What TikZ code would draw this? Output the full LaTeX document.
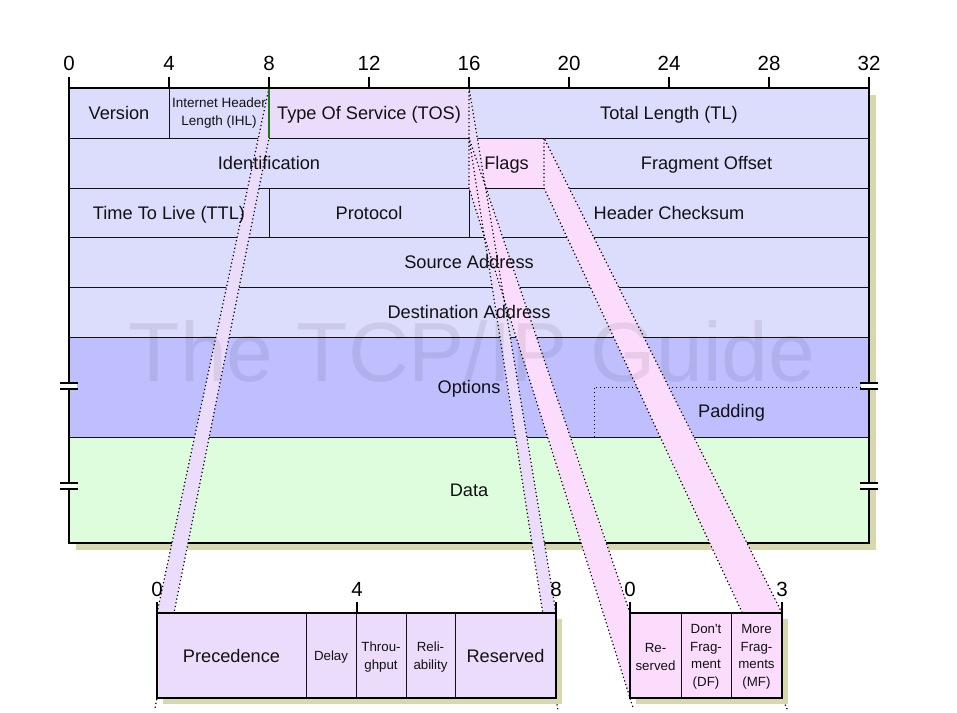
\documentclass[tikz,border=0pt]{standalone}
\usepackage{fontspec}
\setmainfont{Liberation Sans}
\usetikzlibrary{calc}
\definecolor{hdr}{RGB}{220,220,252}
\definecolor{opt}{RGB}{191,191,255}
\definecolor{dat}{RGB}{221,253,221}
\definecolor{tos}{RGB}{236,220,252}
\definecolor{flg}{RGB}{252,220,252}
\definecolor{shd}{RGB}{216,216,176}
\definecolor{ink}{RGB}{18,18,18}
\definecolor{grn}{RGB}{30,120,30}
\begin{document}
\begin{tikzpicture}[x=1pt,y=-1pt,
  lbl/.style={font=\fontsize{18.2}{21}\selectfont, text=ink, inner sep=0pt, text height=13pt, text depth=0pt},
  sml/.style={font=\fontsize{13.3}{17.5}\selectfont, text=ink, align=center, inner sep=0pt},
  num/.style={font=\fontsize{20.5}{22}\selectfont, text=black, inner sep=0pt},
  thinln/.style={line width=1pt, draw=ink},
  thickln/.style={line width=2.3pt, draw=black},
  strip/.style={draw=black, line width=1.2pt, dash pattern=on 1.2pt off 2.6pt},
  padln/.style={draw=black, line width=1pt, dash pattern=on 1.2pt off 2.8pt},
  brk/.style={line width=1.8pt, draw=black},
]
\useasboundingbox (0,0) rectangle (957,712);

% ---------- main header box ----------
\fill[shd] (76,95) rectangle (876,550);
\fill[hdr] (69,88) rectangle (869,337);
\fill[tos] (269,88) rectangle (469,138);
\fill[flg] (469,138) rectangle (544,188);
\fill[opt] (69,337) rectangle (869,437);
\fill[dat] (69,437) rectangle (869,543);

\foreach \yy in {138,188,237,287,337,437} \draw[thinln] (69,\yy) -- (869,\yy);
\draw[thinln] (169,88) -- (169,138);
\draw[thinln] (469,88) -- (469,237);
\draw[thinln] (544,138) -- (544,188);
\draw[thinln] (269,188) -- (269,237);

\draw[padln] (869,387) -- (594,387) -- (594,437);

\draw[thickln] (69,88) rectangle (869,543);
\foreach \i in {0,4,...,32} {
  \draw[line width=2.2pt] ({69+25*\i},77) -- ({69+25*\i},88);
  \node[num] (n\i) at ({69+25*\i},63) {\i};
}

% ---------- corners of the zoom strips ----------
\coordinate (t1) at (269,88);
\coordinate (t2) at (269,138);
\coordinate (t3) at (469,88);
\coordinate (t4) at (469,138);
\coordinate (f2) at (469,188);
\coordinate (f3) at (544,138);
\coordinate (f4) at (544,188);
\coordinate (a1) at (157,613);
\coordinate (a2) at (157,698);
\coordinate (a3) at (556,613);
\coordinate (a4) at (556,698);
\coordinate (b1) at (630,613);
\coordinate (b2) at (630,698);
\coordinate (b3) at (782,613);
\coordinate (b4) at (782,698);

\fill[tos] (t1) -- (a1) -- (a2) -- (t2) -- cycle;
\fill[tos] (t3) -- (a3) -- (a4) -- (t4) -- cycle;
\fill[flg] (t4) -- (b1) -- (b2) -- (f2) -- cycle;
\fill[flg] (f3) -- (b3) -- (b4) -- (f4) -- cycle;

% ---------- watermark ----------
\node[font=\fontsize{84}{84}\selectfont, text=black, text opacity=0.075, inner sep=0pt, anchor=base] (wm) at (472,381) {The TCP/IP Guide};

% ---------- field labels ----------
\node[lbl] (ver) at (119,113) {Version};
\node[font=\fontsize{13.5}{18}\selectfont, text=ink, align=center, inner sep=0pt] (ihl) at (219,113) {Internet Header\\Length (IHL)};
\node[lbl] (tosl) at (369,113) {Type Of Service (TOS)};
\node[lbl] (tl) at (669,113) {Total Length (TL)};
\node[lbl] (id) at (269,163) {Identification};
\node[lbl] (flags) at (506.5,163) {Flags};
\node[lbl] (fo) at (706.5,163) {Fragment Offset};
\node[lbl] (ttl) at (169,213) {Time To Live (TTL)};
\node[lbl] (proto) at (369,213) {Protocol};
\node[lbl] (hc) at (669,213) {Header Checksum};
\node[lbl] (src) at (469,262) {Source Address};
\node[lbl] (dst) at (469,312) {Destination Address};
\node[lbl] (opts) at (469,387) {Options};
\node[lbl] (pad) at (731.5,411) {Padding};
\node[lbl] (data) at (469,490) {Data};

% ---------- dotted strip outlines ----------
\draw[strip] (a1) -- (t1) -- (t2) -- ($(t2)!1.02!(a2)$);
\draw[strip] (a3) -- (t3) -- (t4) -- ($(t4)!1.02!(a4)$);
\draw[strip] (b1) -- (t4) -- (f2) -- ($(f2)!1.022!(b2)$);
\draw[strip] (b3) -- (f3) -- (f4) -- ($(f4)!1.022!(b4)$);
\draw[grn, line width=1.2pt] (269,89) -- (269,138);

% ---------- break marks ----------
\foreach \bx in {69,869} {
  \foreach \by in {386,486} {
    \fill[white] ({\bx-8},{\by-2}) rectangle ({\bx+8},{\by+2});
    \draw[brk] ({\bx-9},{\by-3}) -- ({\bx+9},{\by-3});
    \draw[brk] ({\bx-9},{\by+3}) -- ({\bx+9},{\by+3});
  }
}

% ---------- TOS sub-box ----------
\fill[shd] (163,619) rectangle (562,704);
\fill[tos] (a1) rectangle (a4);
\foreach \xx in {306,356,406,455} \draw[thinln] (\xx,613) -- (\xx,698);
\draw[thickln] (a1) rectangle (a4);
\foreach \xx/\nn in {157/0,357/4,556/8} {
  \draw[line width=2.2pt] (\xx,602) -- (\xx,613);
  \node[num] (s\xx) at (\xx,589) {\nn};
}
\node[lbl] (prec) at (231.5,656) {Precedence};
\node[sml] (dly) at (331,657) {Delay};
\node[sml] (thr) at (381,657) {Throu-\\ghput};
\node[sml] (rel) at (430.5,657) {Reli-\\ability};
\node[lbl] (rsv) at (505.5,656) {Reserved};

% ---------- Flags sub-box ----------
\fill[shd] (636,619) rectangle (788,704);
\fill[flg] (b1) rectangle (b4);
\foreach \xx in {681,731} \draw[thinln] (\xx,613) -- (\xx,698);
\draw[thickln] (b1) rectangle (b4);
\foreach \xx/\nn in {630/0,782/3} {
  \draw[line width=2.2pt] (\xx,602) -- (\xx,613);
  \node[num] (g\xx) at (\xx,589) {\nn};
}
\node[sml] (frs) at (655.5,657) {Re-\\served};
\node[sml] (fdf) at (706,657) {Don\textquotesingle t\\Frag-\\ment\\(DF)};
\node[sml] (fmf) at (756.5,657) {More\\Frag-\\ments\\(MF)};
\end{tikzpicture}
\end{document}
